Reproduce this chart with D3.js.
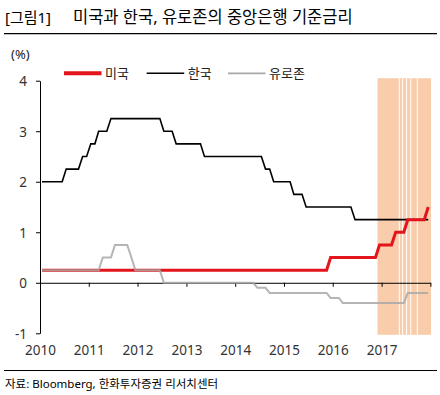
<!DOCTYPE html>
<html lang="ko">
<head>
    <meta charset="UTF-8">
    <title>미국과 한국, 유로존의 중앙은행 기준금리</title>
    <style>
        body
        {
            margin: 0;
            background: #fff;
        }

        svg text
        {
            font-family: "Noto Sans", "Noto Sans CJK KR", sans-serif;
            fill: #222;
        }

        .title
        {
            font-size: 16.5px;
            fill: #000;
        }

        .tick text
        {
            font-size: 13.5px;
            fill: #333;
        }

        .legend text
        {
            font-size: 13px;
        }

        .source
        {
            font-size: 11.5px;
            fill: #000;
        }
    </style>
</head>
<body>

    <svg width="440" height="395"></svg>

    <script src="https://d3js.org/d3.v7.min.js"></script>

    <script>

        // Monthly values, Jan 2010 .. Dec 2017 (one row per year)
        const usRate = [
            0.25, 0.25, 0.25, 0.25, 0.25, 0.25, 0.25, 0.25, 0.25, 0.25, 0.25, 0.25,
            0.25, 0.25, 0.25, 0.25, 0.25, 0.25, 0.25, 0.25, 0.25, 0.25, 0.25, 0.25,
            0.25, 0.25, 0.25, 0.25, 0.25, 0.25, 0.25, 0.25, 0.25, 0.25, 0.25, 0.25,
            0.25, 0.25, 0.25, 0.25, 0.25, 0.25, 0.25, 0.25, 0.25, 0.25, 0.25, 0.25,
            0.25, 0.25, 0.25, 0.25, 0.25, 0.25, 0.25, 0.25, 0.25, 0.25, 0.25, 0.25,
            0.25, 0.25, 0.25, 0.25, 0.25, 0.25, 0.25, 0.25, 0.25, 0.25, 0.25, 0.5,
            0.5, 0.5, 0.5, 0.5, 0.5, 0.5, 0.5, 0.5, 0.5, 0.5, 0.5, 0.75,
            0.75, 0.75, 0.75, 1, 1, 1, 1.25, 1.25, 1.25, 1.25, 1.25, 1.5
        ];

        const koreaRate = [
            2, 2, 2, 2, 2, 2, 2.25, 2.25, 2.25, 2.25, 2.5, 2.5,
            2.75, 2.75, 3, 3, 3, 3.25, 3.25, 3.25, 3.25, 3.25, 3.25, 3.25,
            3.25, 3.25, 3.25, 3.25, 3.25, 3.25, 3, 3, 3, 2.75, 2.75, 2.75,
            2.75, 2.75, 2.75, 2.75, 2.5, 2.5, 2.5, 2.5, 2.5, 2.5, 2.5, 2.5,
            2.5, 2.5, 2.5, 2.5, 2.5, 2.5, 2.5, 2.25, 2.25, 2, 2, 2,
            2, 2, 1.75, 1.75, 1.75, 1.5, 1.5, 1.5, 1.5, 1.5, 1.5, 1.5,
            1.5, 1.5, 1.5, 1.5, 1.5, 1.25, 1.25, 1.25, 1.25, 1.25, 1.25, 1.25,
            1.25, 1.25, 1.25, 1.25, 1.25, 1.25, 1.25, 1.25, 1.25, 1.25, 1.25, 1.25
        ];

        const euroRate = [
            0.25, 0.25, 0.25, 0.25, 0.25, 0.25, 0.25, 0.25, 0.25, 0.25, 0.25, 0.25,
            0.25, 0.25, 0.25, 0.5, 0.5, 0.5, 0.75, 0.75, 0.75, 0.75, 0.5, 0.25,
            0.25, 0.25, 0.25, 0.25, 0.25, 0.25, 0, 0, 0, 0, 0, 0,
            0, 0, 0, 0, 0, 0, 0, 0, 0, 0, 0, 0,
            0, 0, 0, 0, 0, -0.1, -0.1, -0.1, -0.2, -0.2, -0.2, -0.2,
            -0.2, -0.2, -0.2, -0.2, -0.2, -0.2, -0.2, -0.2, -0.2, -0.2, -0.2, -0.3,
            -0.3, -0.3, -0.4, -0.4, -0.4, -0.4, -0.4, -0.4, -0.4, -0.4, -0.4, -0.4,
            -0.4, -0.4, -0.4, -0.4, -0.4, -0.4, -0.2, -0.2, -0.2, -0.2, -0.2, -0.2
        ];

        const seriesNames = ['미국', '한국', '유로존'];
        const yearTicks = [2010, 2011, 2012, 2013, 2014, 2015, 2016, 2017, 2018];
        const yearLabels = [2010, 2011, 2012, 2013, 2014, 2015, 2016, 2017];
        const yTicks = [-1, 0, 1, 2, 3, 4];

        // Shaded period and the thin white breaks inside it
        const shadePeriod = ['2016-12-01', '2018-01-01'];
        const shadeBreaks = ['2017-05-13', '2017-06-07', '2017-07-07', '2017-08-07', '2017-09-25'];

        // one point per month, placed mid-month
        const months = usRate.map(function (d, i) {
            return new Date(2010, i, 16);
        });

        const svg = d3.select('svg');

        const xScale = d3.scaleTime()
            .domain([new Date(2010, 0, 1), new Date(2018, 0, 1)])
            .range([40, 430.4]);

        const yScale = d3.scaleLinear()
            .domain([-1, 4])
            .range([333.3, 80.7]);

        const parse = d3.timeParse('%Y-%m-%d');

        // Title and rule
        svg.append('text')
            .attr('class', 'title')
            .attr('x', 5)
            .attr('y', 23)
            .style('font-size', '15px')
            .text('[그림1]');

        svg.append('text')
            .attr('class', 'title')
            .attr('x', 73)
            .attr('y', 23)
            .text('미국과 한국, 유로존의 중앙은행 기준금리');

        svg.append('line')
            .attr('x1', 4).attr('x2', 437)
            .attr('y1', 33.7).attr('y2', 33.7)
            .attr('stroke', '#000')
            .attr('stroke-width', 1.3);

        // Shading
        svg.append('rect')
            .attr('x', xScale(parse(shadePeriod[0])))
            .attr('width', xScale(parse(shadePeriod[1])) - xScale(parse(shadePeriod[0])) + 0.6)
            .attr('y', yScale(4.05))
            .attr('height', yScale(-1.03) - yScale(4.05))
            .attr('fill', '#f9cdab');

        svg.selectAll('.gap')
            .data(shadeBreaks)
            .enter()
            .append('line')
            .attr('class', 'gap')
            .attr('x1', function (d) { return xScale(parse(d)); })
            .attr('x2', function (d) { return xScale(parse(d)); })
            .attr('y1', yScale(4.05))
            .attr('y2', yScale(-1.03))
            .attr('stroke', '#fff')
            .attr('stroke-width', 1);

        // Y axis (plain hyphen for negatives)
        const yAxisG = svg.append('g')
            .attr('transform', 'translate(40 0)')
            .call(d3.axisLeft(yScale)
                .tickValues(yTicks)
                .tickSize(4)
                .tickPadding(9)
                .tickSizeOuter(0)
                .tickFormat(function (d) { return String(d); }));

        yAxisG.select('.domain').attr('stroke', '#000');
        yAxisG.selectAll('.tick line').attr('stroke', '#000');
        yAxisG.selectAll('.tick text').attr('dy', '0.36em');

        // X axis line at zero, ticks hanging down
        const xAxisG = svg.append('g')
            .attr('transform', 'translate(0 ' + yScale(0) + ')')
            .call(d3.axisBottom(xScale)
                .tickValues(yearTicks.map(function (y) { return new Date(y, 0, 1); }))
                .tickSize(4)
                .tickSizeOuter(0)
                .tickFormat(''));

        xAxisG.select('.domain').attr('stroke', '#000');
        xAxisG.selectAll('.tick line').attr('stroke', '#000');

        // Year labels along the bottom
        const xLabelG = svg.append('g')
            .attr('transform', 'translate(0 ' + 345 + ')')
            .call(d3.axisBottom(xScale)
                .tickValues(yearLabels.map(function (y) { return new Date(y, 0, 1); }))
                .tickSize(0)
                .tickPadding(0)
                .tickFormat(d3.timeFormat('%Y')));

        xLabelG.select('.domain').remove();

        // Lines
        const line = function (values) {
            return d3.line()
                .x(function (d, i) { return xScale(months[i]); })
                .y(function (d) { return yScale(d); })(values);
        };

        svg.append('path')
            .attr('d', line(koreaRate))
            .attr('fill', 'none')
            .attr('stroke', '#000')
            .attr('stroke-width', 1.6);

        svg.append('path')
            .attr('d', line(usRate))
            .attr('fill', 'none')
            .attr('stroke', '#e3141c')
            .attr('stroke-width', 3);

        svg.append('path')
            .attr('d', line(euroRate))
            .attr('fill', 'none')
            .attr('stroke', '#a8a8a8')
            .attr('stroke-opacity', 0.85)
            .attr('stroke-width', 2);

        // Unit
        svg.append('text')
            .attr('x', 11)
            .attr('y', 59)
            .style('font-size', '13px')
            .text('(%)');

        // Legend
        const legendX = [64, 146.7, 228];
        const legendColor = ['#e3141c', '#000', '#a8a8a8'];
        const legendWidth = [4, 1.6, 1.8];

        const legend = svg.append('g')
            .attr('class', 'legend')
            .selectAll('g')
            .data(seriesNames)
            .enter()
            .append('g')
            .attr('transform', function (d, i) {
                return 'translate(' + legendX[i] + ' ' + 73.3 + ')';
            });

        legend.append('line')
            .attr('x1', 0).attr('x2', 37.5)
            .attr('stroke', function (d, i) { return legendColor[i]; })
            .attr('stroke-width', function (d, i) { return legendWidth[i]; });

        legend.append('text')
            .attr('x', 41)
            .attr('dy', '0.36em')
            .text(function (d) { return d; });

        // Source
        svg.append('line')
            .attr('x1', 4).attr('x2', 437)
            .attr('y1', 370.5).attr('y2', 370.5)
            .attr('stroke', '#000')
            .attr('stroke-width', 1);

        svg.append('text')
            .attr('class', 'source')
            .attr('x', 5)
            .attr('y', 388)
            .text('자료: Bloomberg, 한화투자증권 리서치센터');

    </script>

</body>
</html>
